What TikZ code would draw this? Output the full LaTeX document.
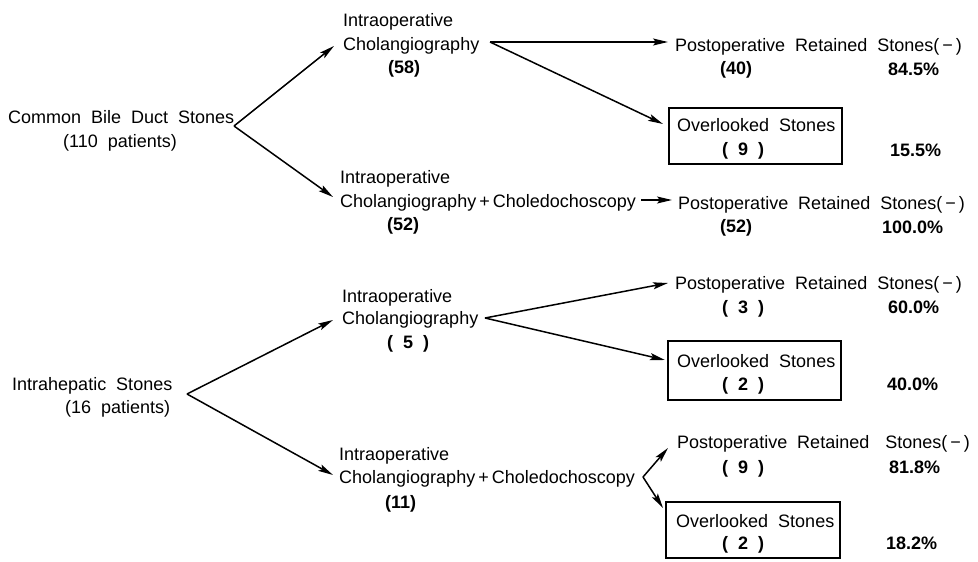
\documentclass[tikz,border=0pt]{standalone}
\usepackage{fontspec}
\setmainfont[WordSpace=2.0]{Liberation Sans}
\usetikzlibrary{arrows.meta}
\newcommand{\nb}[1]{{\bfseries #1}}
\begin{document}
\begin{tikzpicture}[x=1pt,y=-1pt,
  txt/.style={anchor=base west, inner sep=0pt, font=\fontsize{18}{22}\selectfont},
  arr/.style={line width=1.5pt, -{Stealth[length=15pt,width=7pt,inset=3pt]}},
  box/.style={draw, line width=1.5pt, inner sep=0pt}]
\useasboundingbox (0,0) rectangle (978,562);

% ---------- Common bile duct stones ----------
\node[txt] (cbd) at (8,123) {Common Bile Duct Stones};
\node[txt] (cbdn) at (63,147) {(110 patients)};
\coordinate (cbdv) at (234,126);

\node[txt] (a1) at (343,27) {Intraoperative};
\node[txt] (a2) at (343,50) {Cholangiography};
\node[txt] (a3) at (388,73) {\nb{(58)}};
\coordinate (a1in) at (334,46);
\coordinate (a1out) at (490,42);

\node[txt] (b1) at (340,183) {Intraoperative};
\node[txt] (b2) at (340,207) {Cholangiography\,+\,Choledochoscopy};
\node[txt] (b3) at (387,230) {\nb{(52)}};
\coordinate (b1in) at (333,197);
\coordinate (b1out) at (641,200);

\node[txt] (p1) at (675,51) {Postoperative Retained Stones(\,−\,)};
\node[txt] (p1n) at (720,74) {\nb{(40)}};
\node[txt] (p1p) at (888,75) {\nb{84.5\%}};
\coordinate (p1in) at (668,42);

\node[box, minimum width=173pt, minimum height=56pt] (o1) at (755.5,136) {};
\node[txt] (o1t) at (677,131) {Overlooked Stones};
\node[txt] (o1n) at (722,155) {\nb{( 9 )}};
\node[txt] (o1p) at (890,156) {\nb{15.5\%}};
\coordinate (o1in) at (663,124);

\node[txt] (p2) at (678,209) {Postoperative Retained Stones(\,−\,)};
\node[txt] (p2n) at (720,232) {\nb{(52)}};
\node[txt] (p2p) at (882,233) {\nb{100.0\%}};
\coordinate (p2in) at (672,200);

\draw[arr] (cbdv) -- (a1in);
\draw[arr] (cbdv) -- (b1in);
\draw[arr] (a1out) -- (p1in);
\draw[arr] (a1out) -- (o1in);
\draw[arr] (b1out) -- (p2in);

% ---------- Intrahepatic stones ----------
\node[txt] (ih) at (12,390) {Intrahepatic Stones};
\node[txt] (ihn) at (65,413) {(16 patients)};
\coordinate (ihv) at (187,394);

\node[txt] (c1) at (342,302) {Intraoperative};
\node[txt] (c2) at (342,324) {Cholangiography};
\node[txt] (c3) at (387,348) {\nb{( 5 )}};
\coordinate (c1in) at (333,320);
\coordinate (c1out) at (485,318);

\node[txt] (d1) at (339,460) {Intraoperative};
\node[txt] (d2) at (339,483) {Cholangiography\,+\,Choledochoscopy};
\node[txt] (d3) at (385,508) {\nb{(11)}};
\coordinate (d1in) at (333,475);
\coordinate (d1out) at (643,477);

\node[txt] (p3) at (675,289) {Postoperative Retained Stones(\,−\,)};
\node[txt] (p3n) at (722,313) {\nb{( 3 )}};
\node[txt] (p3p) at (888,313) {\nb{60.0\%}};
\coordinate (p3in) at (668,283);

\node[box, minimum width=173pt, minimum height=59pt] (o2) at (754.5,370.5) {};
\node[txt] (o2t) at (677,367) {Overlooked Stones};
\node[txt] (o2n) at (722,390) {\nb{( 2 )}};
\node[txt] (o2p) at (887,390) {\nb{40.0\%}};
\coordinate (o2in) at (665,360);

\node[txt] (p4) at (677,448) {Postoperative Retained\hspace{6pt} Stones(\,−\,)};
\node[txt] (p4n) at (722,473) {\nb{( 9 )}};
\node[txt] (p4p) at (889,473) {\nb{81.8\%}};
\coordinate (p4in) at (668,448);

\node[box, minimum width=174pt, minimum height=56pt] (o3) at (753,530) {};
\node[txt] (o3t) at (676,527) {Overlooked Stones};
\node[txt] (o3n) at (722,549) {\nb{( 2 )}};
\node[txt] (o3p) at (886,549) {\nb{18.2\%}};
\coordinate (o3in) at (663,508);

\draw[arr] (ihv) -- (c1in);
\draw[arr] (ihv) -- (d1in);
\draw[arr] (c1out) -- (p3in);
\draw[arr] (c1out) -- (o2in);
\draw[arr] (d1out) -- (p4in);
\draw[arr] (d1out) -- (o3in);
\end{tikzpicture}
\end{document}
